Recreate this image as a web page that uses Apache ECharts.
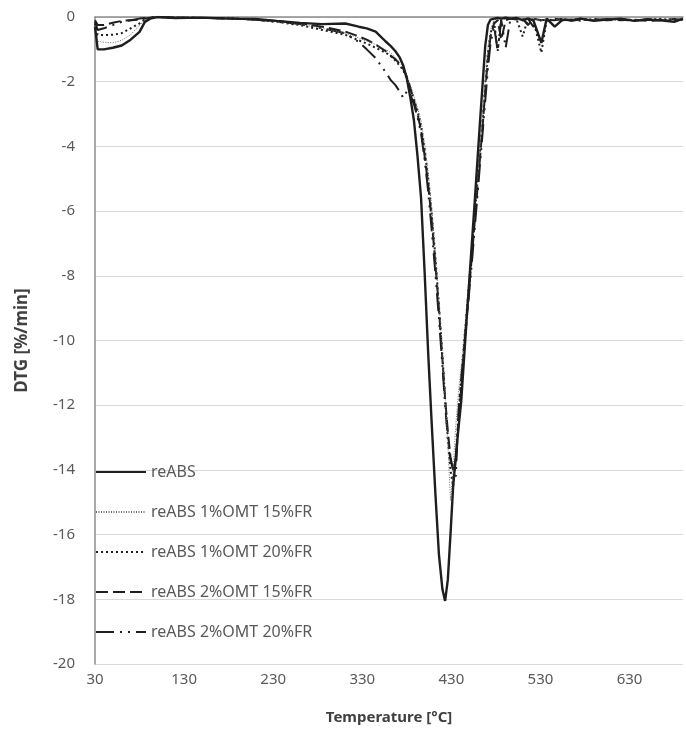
<!DOCTYPE html>
<html>
<head>
<meta charset="utf-8">
<script src="https://cdn.jsdelivr.net/npm/echarts@6/dist/echarts.min.js"></script>
<style>
  html, body { margin: 0; padding: 0; background: #fff; }
  #chart { width: 686px; height: 736px; }
</style>
</head>
<body>
<div id="chart"></div>
<script>
// temperature grid [°C], shared by all curves
const temps = [30, 33, 40, 50, 60, 70, 80, 86, 92, 100, 120, 150, 180, 210, 234, 260, 285, 311, 326, 335,
  345, 356, 362, 367, 372, 376, 380, 384, 388, 392, 396, 400, 404, 408, 412, 416, 420, 423, 426, 429,
  432, 435, 438, 441, 444, 447, 450, 453, 456, 459, 462, 465, 468, 471, 474, 478, 482, 486, 491, 496,
  503, 510, 516, 522, 531, 537, 546, 555, 565, 575, 590, 605, 620, 635, 650, 665, 680, 690];

// DTG [%/min]
const reABS = [-0.3, -1.0, -1.0, -0.95, -0.88, -0.7, -0.46, -0.15, -0.05, 0, -0.03, -0.02, -0.05, -0.06, -0.12, -0.18, -0.22, -0.2, -0.3, -0.35,
  -0.45, -0.75, -0.9, -1.05, -1.25, -1.5, -1.9, -2.5, -3.2, -4.3, -5.6, -7.9, -10.4, -12.6, -14.7, -16.6, -17.7, -18.05, -17.4, -16.0,
  -14.5, -13.6, -12.7, -11.9, -10.65, -9.4, -8.2, -7.0, -5.8, -4.55, -3.3, -2.1, -0.9, -0.25, -0.08, -0.05, -0.03, -0.05, -0.02, -0.05,
  -0.03, -0.1, -0.05, -0.1, -0.8, -0.05, -0.3, -0.08, -0.1, -0.05, -0.12, -0.08, -0.05, -0.12, -0.08, -0.1, -0.15, -0.05];
const omt1fr15 = [-0.3, -0.75, -0.78, -0.8, -0.72, -0.55, -0.25, -0.1, -0.03, 0, -0.02, -0.03, -0.04, -0.08, -0.15, -0.22, -0.35, -0.5, -0.65, -0.75,
  -0.85, -1.0, -1.1, -1.25, -1.4, -1.55, -1.8, -2.1, -2.45, -2.8, -3.2, -3.9, -4.8, -5.9, -7.3, -8.8, -10.4, -11.7, -13.2, -14.95,
  -14.0, -12.6, -11.6, -10.8, -9.9, -9.0, -8.0, -7.1, -6.1, -5.1, -4.1, -3.0, -2.0, -1.0, -0.4, -0.1, -0.05, -0.03, -0.05, -0.04,
  -0.06, -0.05, -0.08, -0.05, -0.1, -0.06, -0.08, -0.05, -0.1, -0.06, -0.08, -0.1, -0.06, -0.08, -0.1, -0.06, -0.1, -0.08];
const omt1fr20 = [-0.2, -0.55, -0.56, -0.55, -0.5, -0.35, -0.2, -0.08, -0.02, 0, -0.02, -0.03, -0.04, -0.08, -0.15, -0.25, -0.4, -0.55, -0.72, -0.82,
  -0.95, -1.1, -1.2, -1.35, -1.5, -1.65, -1.9, -2.2, -2.55, -2.9, -3.4, -4.1, -5.0, -6.1, -7.4, -8.9, -10.5, -11.8, -13.0, -14.0,
  -14.5, -13.6, -12.3, -11.2, -10.2, -9.2, -8.2, -7.2, -6.2, -5.2, -4.2, -3.2, -2.1, -1.1, -0.5, -0.15, -1.05, -0.05, -0.05, -0.06,
  -0.05, -0.6, -0.05, -0.1, -1.1, -0.1, -0.08, -0.06, -0.1, -0.05, -0.08, -0.1, -0.06, -0.1, -0.08, -0.06, -0.1, -0.08];
const omt2fr15 = [-0.1, -0.25, -0.25, -0.18, -0.12, -0.1, -0.08, -0.05, -0.02, 0, -0.02, -0.03, -0.04, -0.08, -0.12, -0.2, -0.3, -0.45, -0.6, -0.7,
  -0.85, -1.05, -1.2, -1.3, -1.45, -1.6, -1.85, -2.2, -2.6, -3.0, -3.5, -4.3, -5.2, -6.3, -7.6, -9.0, -10.6, -11.8, -12.8, -13.6,
  -14.0, -13.7, -12.6, -11.5, -10.4, -9.4, -8.4, -7.4, -6.4, -5.4, -4.4, -3.4, -2.3, -1.3, -0.6, -0.2, -0.1, -0.7, -0.1, -0.05,
  -0.08, -0.05, -0.25, -0.05, -0.1, -0.08, -0.1, -0.05, -0.12, -0.08, -0.1, -0.06, -0.1, -0.08, -0.12, -0.1, -0.06, -0.1];
const omt2fr20 = [-0.15, -0.4, -0.35, -0.25, -0.15, -0.1, -0.05, -0.03, -0.02, 0, -0.02, -0.03, -0.05, -0.08, -0.15, -0.22, -0.35, -0.5, -0.77, -1.0,
  -1.27, -1.7, -1.95, -2.1, -2.3, -2.5, -2.3, -2.4, -2.7, -3.1, -3.6, -4.4, -5.4, -6.6, -7.9, -9.3, -10.8, -12.0, -13.0, -13.7,
  -14.0, -14.2, -12.2, -11.2, -10.3, -9.4, -8.5, -7.6, -6.6, -5.6, -4.6, -3.6, -2.6, -1.6, -0.8, -0.3, -1.05, -0.1, -0.95, -0.1,
  -0.05, -0.1, -0.05, -0.3, -0.08, -0.1, -0.05, -0.1, -0.08, -0.12, -0.06, -0.1, -0.08, -0.12, -0.06, -0.1, -0.12, -0.08];

const names = ['reABS', 'reABS 1%OMT 15%FR', 'reABS 1%OMT 20%FR', 'reABS 2%OMT 15%FR', 'reABS 2%OMT 20%FR'];
const values = [reABS, omt1fr15, omt1fr20, omt2fr15, omt2fr20];
const styles = [
  { color: '#1e1e1e', width: 2.4, type: 'solid' },
  { color: '#6a6a6a', width: 1, type: [1, 1.5] },
  { color: '#1e1e1e', width: 2, type: [2, 3] },
  { color: '#1e1e1e', width: 2, type: [12, 5] },
  { color: '#1e1e1e', width: 2, type: [18, 6, 2, 6, 2, 6] },
];

const X0 = 30; // x axis starts at 30 °C; ticks are counted from a shifted zero
const FONT = 'Noto Sans';

const chart = echarts.init(document.getElementById('chart'), null, { renderer: 'canvas' });

const option = {
  animation: false,
  backgroundColor: '#fff',
  grid: { left: 95, right: 0, top: 17, bottom: 72 },
  legend: {
    orient: 'vertical',
    left: 95,
    top: 464,
    padding: 0,
    itemWidth: 50,
    itemHeight: 16,
    itemGap: 24,
    itemStyle: { opacity: 0 },  // hide the symbol dot, keep the line sample
    textStyle: { fontFamily: FONT, fontSize: 16, color: '#595959', lineHeight: 16 },
    data: names,
  },
  xAxis: {
    type: 'value',
    min: 0,
    max: 690 - X0,
    interval: 100,
    name: 'Temperature [°C]',
    nameLocation: 'middle',
    nameGap: 46,
    nameTextStyle: { fontFamily: FONT, fontSize: 15, fontWeight: 'bold', color: '#404040' },
    axisLine: { lineStyle: { color: '#8c8c8c', width: 1.5 } },
    axisTick: { show: false },
    splitLine: { show: false },
    axisLabel: {
      fontFamily: FONT, fontSize: 15, color: '#595959', margin: 8,
      formatter: (v) => (v + X0 <= 630 ? String(v + X0) : ''),
    },
  },
  yAxis: {
    type: 'value',
    min: -20,
    max: 0,
    interval: 2,
    name: 'DTG [%/min]',
    nameLocation: 'middle',
    nameGap: 64,
    nameTextStyle: { fontFamily: FONT, fontSize: 17, fontWeight: 'bold', color: '#404040' },
    axisLine: { show: true, lineStyle: { color: '#8c8c8c', width: 1.5 } },
    axisTick: { show: false },
    splitLine: { lineStyle: { color: '#d9d9d9', width: 1.2 } },
    axisLabel: { fontFamily: FONT, fontSize: 15, color: '#595959', margin: 20 },
  },
  series: names.map((name, i) => ({
    name,
    type: 'line',
    symbol: 'none',
    z: 10 - i,
    lineStyle: { color: styles[i].color, width: styles[i].width, type: styles[i].type },
    itemStyle: { color: styles[i].color },
    data: temps.map((t, k) => [t - X0, values[i][k]]),
  })),
};

chart.setOption(option);
</script>
</body>
</html>
